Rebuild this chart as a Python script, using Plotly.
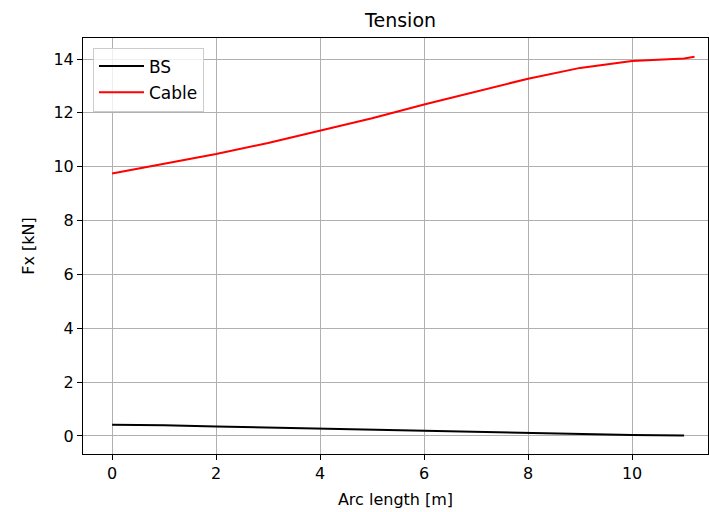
import plotly.graph_objects as go

bs_x = [0, 1, 2, 3, 4, 5, 6, 7, 8, 9, 10, 11]
bs_y = [0.42, 0.40, 0.35, 0.31, 0.27, 0.23, 0.19, 0.15, 0.11, 0.07, 0.04, 0.02]
cable_x = [0, 1, 2, 3, 4, 5, 6, 7, 8, 9, 10, 11, 11.2]
cable_y = [9.75, 10.10, 10.47, 10.88, 11.33, 11.80, 12.31, 12.80, 13.27, 13.67, 13.93, 14.02, 14.08]
x_ticks = [0, 2, 4, 6, 8, 10]
y_ticks = [0, 2, 4, 6, 8, 10, 12, 14]

fig = go.Figure()
fig.add_trace(go.Scatter(x=bs_x, y=bs_y, mode="lines", name="BS", legendgroup="a",
                         line=dict(color="black", width=2)))
fig.add_trace(go.Scatter(x=cable_x, y=cable_y, mode="lines", name="Cable", legendgroup="b",
                         line=dict(color="red", width=2)))

axis_common = dict(showline=True, linecolor="black", linewidth=1, mirror=True,
                   ticks="outside", ticklen=5, tickcolor="black", tickwidth=1,
                   showgrid=True, gridcolor="#b0b0b0", gridwidth=1, zeroline=False,
                   tickfont=dict(size=16, color="black", family="DejaVu Sans"))

fig.update_layout(
    width=709, height=512,
    margin=dict(l=83, r=1, t=38, b=58),
    paper_bgcolor="white", plot_bgcolor="white",
    font=dict(family="DejaVu Sans", color="black", size=16),
    title=dict(text="Tension", x=0.565, xanchor="center", y=0.960, yanchor="middle",
               font=dict(size=19, color="black")),
    xaxis=dict(range=[-0.56, 11.46], tickvals=x_ticks,
               title=dict(text="Arc length [m]", standoff=11, font=dict(size=16)),
               **axis_common),
    yaxis=dict(range=[-0.67, 14.78], tickvals=y_ticks,
               title=dict(text="Fx [kN]", standoff=14, font=dict(size=16)),
               **axis_common),
    legend=dict(x=0.016, y=0.977, xanchor="left", yanchor="top",
                bgcolor="rgba(255,255,255,0.8)", bordercolor="#cccccc", borderwidth=1,
                tracegroupgap=1, itemwidth=45,
                font=dict(size=17, color="black")),
    showlegend=True,
)

fig.write_html("out.html")
